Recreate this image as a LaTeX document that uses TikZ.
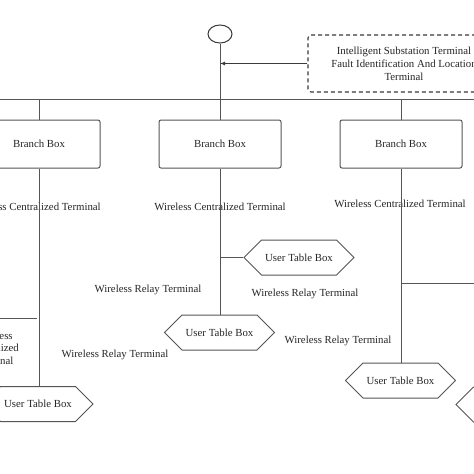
\documentclass[tikz,border=0pt]{standalone}
\usepackage{fontspec}
\setmainfont{Liberation Serif}
\usetikzlibrary{shapes.geometric,shapes.symbols,arrows.meta}
\definecolor{ln}{HTML}{555555}
\definecolor{dk}{HTML}{3A3A3A}
\definecolor{tx}{HTML}{262626}
\begin{document}
\begin{tikzpicture}[x=1pt,y=-1pt,
  conn/.style={draw=ln,line width=1pt},
  txtfont/.style={font=\fontsize{10.8}{13}\selectfont,text=tx},
  branchbox/.style={draw=ln,line width=1pt,rounded corners=2pt,minimum width=122pt,minimum height=48pt,inner sep=0pt,txtfont},
  userbox/.style={signal,signal to=east and west,signal pointer angle=90,draw=ln,line width=1pt,minimum width=110pt,minimum height=35pt,inner sep=0pt,txtfont},
  lbl/.style={inner sep=0pt,txtfont},
]
\useasboundingbox (0,0) rectangle (474,474);
\clip (0,0) rectangle (474,474);
\fill[white] (0,0) rectangle (474,474);

% top source
\node[ellipse,draw=dk,line width=1pt,minimum width=24pt,minimum height=18pt,inner sep=0pt] (top) at (220,34) {};
\node[draw=dk,line width=1.1pt,dash pattern=on 4pt off 3pt,rounded corners=3pt,minimum width=192pt,minimum height=57pt,inner sep=0pt,align=center,txtfont] (isb) at (404,63.5) {Intelligent Substation Terminal\\Fault Identification And Location\\Terminal};

% bus
\coordinate (busL) at (0,99);
\coordinate (busR) at (474,99);

% branch boxes
\node[branchbox] (bb1) at (39,144) {Branch Box};
\node[branchbox] (bb2) at (220,144) {Branch Box};
\node[branchbox] (bb3) at (401,144) {Branch Box};

% centralized terminal labels
\node[lbl] (wct1) at (35,207) {Wireless Centralized Terminal};
\node[lbl] (wct2) at (220,207) {Wireless Centralized Terminal};
\node[lbl] (wct3) at (400,204) {Wireless Centralized Terminal};
\node[lbl,align=center,font=\fontsize{10.8}{12.5}\selectfont] (wct4) at (-6,348) {Wireless\\Centralized\\Terminal};

% user table boxes
\node[userbox] (ut1) at (299,257.5) {User Table Box};
\node[userbox] (ut2) at (219.5,332.5) {User Table Box};
\node[userbox] (ut3) at (400.5,380.5) {User Table Box};
\node[userbox] (ut4) at (38,404) {User Table Box};
\node[userbox] (ut5) at (511,404.5) {User Table Box};

% relay labels
\node[lbl] (wr1) at (148,290) {Wireless Relay Terminal};
\node[lbl] (wr2) at (115,355) {Wireless Relay Terminal};
\node[lbl] (wr3) at (305,294) {Wireless Relay Terminal};
\node[lbl] (wr4) at (338,341) {Wireless Relay Terminal};

% side coordinates
\coordinate (r1) at (474,283);
\coordinate (l1) at (0,318);
\coordinate (l2) at (37,318);

% connectors
\draw[conn] (busL) -- (busR);
\draw[conn] (top.south) -- (bb2.north);
\draw[conn,draw=dk,-{Latex[length=5pt,width=4pt]}] (isb.west) -- (isb.west -| top.south);
\draw[conn] (bb1.north) -- (bb1.north |- busL);
\draw[conn] (bb3.north) -- (bb3.north |- busL);
\draw[conn] (bb1.south) -- (bb1.south |- ut4.north);
\draw[conn] (bb2.south) -- (bb2.south |- ut2.north);
\draw[conn] (bb3.south) -- (bb3.south |- ut3.north);
\draw[conn] (ut1.west) -- (ut1.west -| bb2.south);
\draw[conn] (r1 -| bb3.south) -- (r1);
\draw[conn] (l1) -- (l2);
\end{tikzpicture}
\end{document}
